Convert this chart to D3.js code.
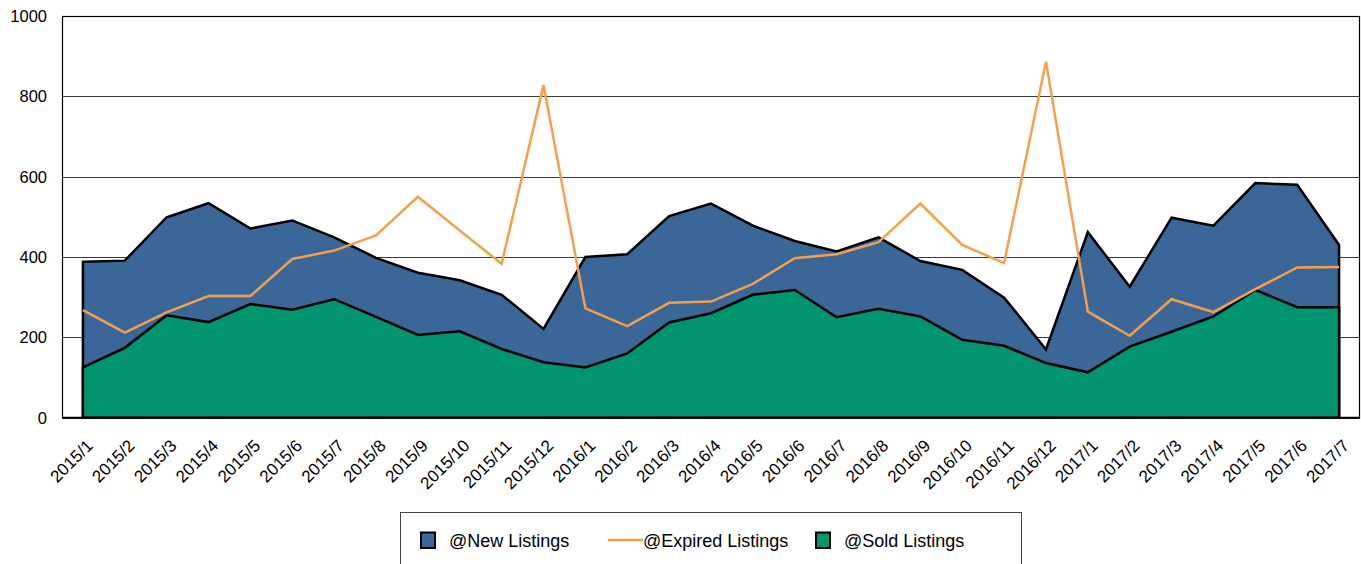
<!DOCTYPE html>
<html>
<head>
<meta charset="utf-8">
<script src="https://cdn.jsdelivr.net/npm/d3@7"></script>
<style>
  body { margin: 0; background: #fff; }
  text { font-family: Arial, "Liberation Sans", sans-serif; fill: #000; }
</style>
</head>
<body>
<div id="chart"></div>
<script>
// Data
var months = ["2015/1","2015/2","2015/3","2015/4","2015/5","2015/6","2015/7","2015/8","2015/9","2015/10","2015/11","2015/12",
              "2016/1","2016/2","2016/3","2016/4","2016/5","2016/6","2016/7","2016/8","2016/9","2016/10","2016/11","2016/12",
              "2017/1","2017/2","2017/3","2017/4","2017/5","2017/6","2017/7"];

var newListings = [388,391,499,534,471,491,449,398,361,342,306,221,
                   400,407,502,533,478,440,414,449,390,368,299,170,
                   462,326,498,478,584,580,430];

var soldListings = [125,174,255,238,283,269,295,251,206,215,171,138,
                    125,160,237,260,306,318,250,271,252,194,179,136,
                    113,177,214,252,318,275,275];

var expiredListings = [268,212,262,303,303,395,416,454,550,466,383,828,
                       272,228,286,289,333,397,407,437,533,430,385,886,
                       264,204,295,263,320,374,375];

var yTicks = [0, 200, 400, 600, 800, 1000];

var legendItems = [
  {name: "@New Listings", type: "area", color: "#3b6698", x: 420},
  {name: "@Expired Listings", type: "line", color: "#f2a04c", x: 608},
  {name: "@Sold Listings", type: "area", color: "#00946f", x: 815}
];

var width = 1361, height = 564;
var margin = {top: 16, right: 1, bottom: 146.3, left: 62};
var w = width - margin.left - margin.right,
    h = height - margin.top - margin.bottom;

var svg = d3.select("#chart").append("svg")
  .attr("width", width)
  .attr("height", height);

var g = svg.append("g")
  .attr("transform", "translate(" + margin.left + "," + margin.top + ")");

// Scales
var x = d3.scaleBand().domain(months).range([0, w]);
var y = d3.scaleLinear().domain([0, 1000]).range([h, 0]);

function cx(d, i) { return x(months[i]) + x.bandwidth() / 2; }

// Gridlines
g.selectAll(".grid")
  .data(yTicks.filter(function(t){ return t > 0 && t < 1000; }))
  .enter().append("line")
  .attr("x1", 0).attr("x2", w)
  .attr("y1", function(d){ return Math.round(y(d)) + 0.5; })
  .attr("y2", function(d){ return Math.round(y(d)) + 0.5; })
  .attr("stroke", "#3a3a3a")
  .attr("stroke-width", 1);

// Areas (overlapping, not stacked)
var area = d3.area().x(cx).y0(y(0)).y1(function(d){ return y(d); });

g.append("path")
  .datum(newListings)
  .attr("d", area)
  .attr("fill", "#3b6698")
  .attr("stroke", "#000")
  .attr("stroke-width", 2.5);

g.append("path")
  .datum(soldListings)
  .attr("d", area)
  .attr("fill", "#00946f")
  .attr("stroke", "#000")
  .attr("stroke-width", 2.5);

// Expired line
var line = d3.line().x(cx).y(function(d){ return y(d); });

g.append("path")
  .datum(expiredListings)
  .attr("d", line)
  .attr("fill", "none")
  .attr("stroke", "#f2a04c")
  .attr("stroke-width", 2.5);

// Plot frame
g.append("rect")
  .attr("x", 0.5).attr("y", 0.5)
  .attr("width", w - 1).attr("height", h)
  .attr("fill", "none")
  .attr("stroke", "#000")
  .attr("stroke-width", 1.2);

g.append("line")
  .attr("x1", 0).attr("x2", w)
  .attr("y1", h).attr("y2", h)
  .attr("stroke", "#000")
  .attr("stroke-width", 2);

// Y axis labels
g.selectAll(".ylab")
  .data(yTicks)
  .enter().append("text")
  .attr("x", -15)
  .attr("y", function(d){ return y(d); })
  .attr("dy", "0.36em")
  .attr("text-anchor", "end")
  .style("font-size", "16.5px")
  .text(function(d){ return d; });

// X axis labels
g.selectAll(".xlab")
  .data(months)
  .enter().append("text")
  .attr("text-anchor", "end")
  .attr("transform", function(d){
    return "translate(" + (x(d) + x.bandwidth() / 2 + 11) + "," + (h + 29) + ") rotate(-45)";
  })
  .style("font-size", "17px")
  .text(function(d){ return d; });

// Legend
svg.append("rect")
  .attr("x", 400.5).attr("y", 512.5)
  .attr("width", 621).attr("height", 80)
  .attr("fill", "#fff")
  .attr("stroke", "#444")
  .attr("stroke-width", 1);

var leg = svg.selectAll(".leg")
  .data(legendItems)
  .enter().append("g")
  .attr("transform", function(d){ return "translate(" + d.x + ",540)"; });

leg.filter(function(d){ return d.type == "area"; })
  .append("rect")
  .attr("x", 1).attr("y", -7.5)
  .attr("width", 14).attr("height", 15.5)
  .attr("fill", function(d){ return d.color; })
  .attr("stroke", "#000")
  .attr("stroke-width", 2);

leg.filter(function(d){ return d.type == "line"; })
  .append("line")
  .attr("x1", 0).attr("x2", 35)
  .attr("y1", 0).attr("y2", 0)
  .attr("stroke", function(d){ return d.color; })
  .attr("stroke-width", 2.5);

leg.append("text")
  .attr("x", function(d){ return d.type == "line" ? 35 : 29; })
  .attr("y", 6.5)
  .style("font-size", "18px")
  .text(function(d){ return d.name; });
</script>
</body>
</html>
